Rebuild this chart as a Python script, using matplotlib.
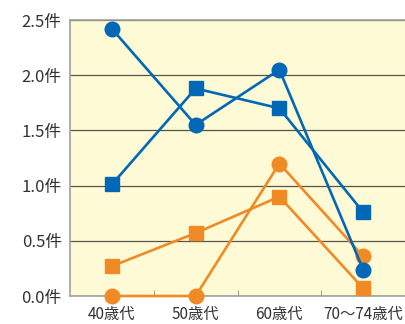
import matplotlib
matplotlib.use('Agg')
import matplotlib.pyplot as plt

plt.rcParams['font.family'] = ['Noto Sans CJK JP', 'DejaVu Sans']

categories = ['40歳代', '50歳代', '60歳代', '70～74歳代']
blue_circle = [2.42, 1.55, 2.05, 0.24]
blue_square = [1.01, 1.88, 1.70, 0.76]
orange_circle = [0.0, 0.0, 1.20, 0.36]
orange_square = [0.27, 0.57, 0.90, 0.07]
yticks = [0.0, 0.5, 1.0, 1.5, 2.0, 2.5]
ytick_labels = ['{:.1f}件'.format(v) for v in yticks]

blue = '#0068b7'
orange = '#f08a24'

fig = plt.figure(figsize=(4.05, 3.24), dpi=100)
ax = fig.add_axes([70 / 405, 28 / 324, 335 / 405, 276 / 324])
ax.set_facecolor('#fffad6')

x = list(range(len(categories)))
ax.plot(x, orange_circle, color=orange, lw=1.9, marker='o', ms=10.5, zorder=3, clip_on=False)
ax.plot(x, orange_square, color=orange, lw=1.9, marker='s', ms=10, zorder=3, clip_on=False)
ax.plot(x, blue_circle, color=blue, lw=1.9, marker='o', ms=10.5, zorder=4, clip_on=False)
ax.plot(x, blue_square, color=blue, lw=1.9, marker='s', ms=10, zorder=4, clip_on=False)

ax.set_xlim(-0.5, 3.5)
ax.set_ylim(0, 2.5)
ax.set_yticks(yticks)
ax.set_yticklabels(ytick_labels, fontsize=12, color='#333333')
ax.set_xticks(x)
ax.set_xticklabels(categories, fontsize=11, color='#333333')
ax.set_xticks([0.5, 1.5, 2.5], minor=True)
ax.tick_params(axis='x', which='major', length=0, pad=7)
ax.tick_params(axis='x', which='minor', length=4, direction='in', color='#888888')
ax.tick_params(axis='y', length=0, pad=6)
ax.yaxis.grid(True, color='#55554a', lw=0.9)
ax.set_axisbelow(True)

for side in ['left', 'bottom', 'top']:
    ax.spines[side].set_color('#a0a0a0')
    ax.spines[side].set_linewidth(1.2)
ax.spines['right'].set_visible(False)

fig.savefig('out.png', dpi=100)
